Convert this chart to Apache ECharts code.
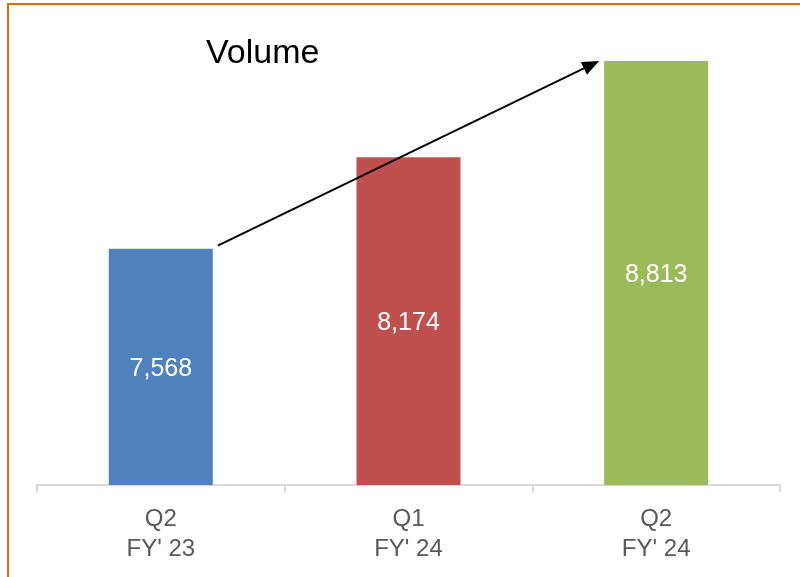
<!DOCTYPE html>
<html>
<head>
<meta charset="utf-8">
<script src="https://cdn.jsdelivr.net/npm/echarts@6/dist/echarts.min.js"></script>
<style>
  html, body { margin: 0; padding: 0; background: #fff; }
  #volume { width: 800px; height: 577px; }
</style>
</head>
<body>
<div id="volume"></div>
<script>
// quarter volume chart
const quarters = ['Q2\nFY\' 23', 'Q1\nFY\' 24', 'Q2\nFY\' 24'];
const volumes = [7568, 8174, 8813];
const barColors = ['#4F81BD', '#C0504D', '#9BBB59'];

const volumeDom = document.getElementById('volume'),
    volumeChart = echarts.init(volumeDom);

let volumeOption;

volumeOption = {
    animation: false,
    textStyle: { fontFamily: 'Liberation Sans' },
    title: {
        text: 'Volume',
        left: 201,
        top: 32,
        textStyle: {
            fontFamily: 'Liberation Sans',
            fontSize: 34,
            fontWeight: 'normal',
            color: '#000'
        }
    },
    grid: {
        left: 37,
        right: 20,
        top: 61,
        bottom: 92
    },
    xAxis: {
        type: 'category',
        data: quarters,
        axisLine: { lineStyle: { color: '#D9D9D9', width: 2 } },
        axisTick: { show: true, length: 7, lineStyle: { color: '#D9D9D9', width: 2 } },
        axisLabel: {
            color: '#595959',
            fontSize: 24,
            lineHeight: 30,
            margin: 19
        }
    },
    yAxis: {
        type: 'value',
        min: 6000,
        max: 8813,
        show: false,
        splitLine: { show: false }
    },
    series: [
        {
            name: 'Volume',
            type: 'bar',
            barWidth: 104,
            label: {
                show: true,
                position: 'inside',
                color: '#fff',
                fontSize: 25,
                offset: [0, 2],
                formatter: function (p) {
                    return p.value.toLocaleString('en-US');
                }
            },
            data: volumes.map(function (v, i) {
                return { value: v, itemStyle: { color: barColors[i] } };
            })
        }
    ]
};

volumeOption && volumeChart.setOption(volumeOption);

// growth arrow from first bar top to last bar top, plus the orange frame
const half = 52;
const p0 = volumeChart.convertToPixel({ seriesIndex: 0 }, [0, volumes[0]]);
const p1 = volumeChart.convertToPixel({ seriesIndex: 0 }, [2, volumes[2]]);
const x0 = p0[0] + half + 5, y0 = p0[1] - 3;
const x1 = p1[0] - half - 5, y1 = p1[1];
const ang = Math.atan2(y1 - y0, x1 - x0);
const headLen = 17, headHalf = 7;
const bx = x1 - headLen * Math.cos(ang), by = y1 - headLen * Math.sin(ang);
const nx = -Math.sin(ang), ny = Math.cos(ang);

volumeChart.setOption({
    graphic: [
        {
            type: 'rect',
            shape: { x: 8, y: 4, width: 800, height: 600 },
            style: { fill: 'none', stroke: '#E46C0A', lineWidth: 2 },
            silent: true
        },
        {
            type: 'line',
            shape: { x1: x0, y1: y0, x2: bx, y2: by },
            style: { stroke: '#000', lineWidth: 2 },
            z: 10
        },
        {
            type: 'polygon',
            shape: {
                points: [
                    [x1, y1],
                    [bx + nx * headHalf, by + ny * headHalf],
                    [bx - nx * headHalf, by - ny * headHalf]
                ]
            },
            style: { fill: '#000' },
            z: 10
        }
    ]
});
</script>
</body>
</html>
